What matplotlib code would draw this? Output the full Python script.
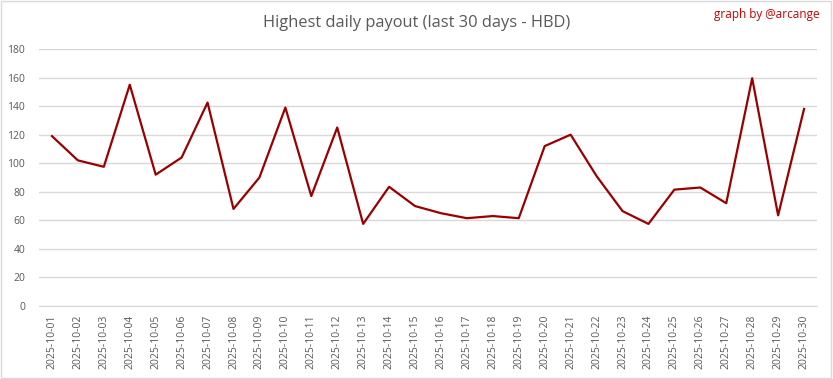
import matplotlib
matplotlib.use("Agg")
import matplotlib.pyplot as plt
from matplotlib.patches import Rectangle

# data
dates = ["2025-10-%02d" % d for d in range(1, 31)]
payout = [119, 102, 97.5, 155, 92, 104, 142.5, 68, 90, 139,
          77, 125, 57.5, 83.5, 70, 65, 61.5, 63, 61.5, 112,
          120, 91, 66.5, 57.5, 81.5, 83, 72, 159.5, 63.5, 138]
y_ticks = [0, 20, 40, 60, 80, 100, 120, 140, 160, 180]

plt.rcParams['font.family'] = ['Open Sans', 'DejaVu Sans']

fig = plt.figure(figsize=(8.33, 3.79), dpi=100)
ax = fig.add_axes([0.0468, 0.1926, 0.9340, 0.6781])

x = list(range(len(dates)))
ax.plot(x, payout, color="#9b0000", linewidth=1.6, zorder=3)

ax.set_xlim(-0.5, len(dates) - 0.5)
ax.set_ylim(0, 180)
ax.set_yticks(y_ticks)
ax.set_xticks(x)
ax.set_xticklabels(dates, rotation=90)

ax.grid(axis="y", color="#d9d9d9", linewidth=1)
ax.set_axisbelow(True)
for s in ["top", "right", "left"]:
    ax.spines[s].set_visible(False)
ax.spines["bottom"].set_color("#d9d9d9")
ax.tick_params(axis="both", length=0, labelsize=7.5, colors="#595959")
ax.tick_params(axis="y", pad=10)
ax.tick_params(axis="x", pad=6)

fig.text(0.5, 0.938, "Highest daily payout (last 30 days - HBD)",
         ha="center", va="center", fontsize=11.8, color="#595959")
fig.text(0.984, 0.962, "graph by @arcange", ha="right", va="center",
         fontsize=8.5, color="#cc0000")

# light border around the whole picture
fig.patches.append(Rectangle((0.001, 0.002), 0.997, 0.995, transform=fig.transFigure,
                             fill=False, edgecolor="#d9d9d9", linewidth=1))

fig.savefig("out.png", dpi=100)
